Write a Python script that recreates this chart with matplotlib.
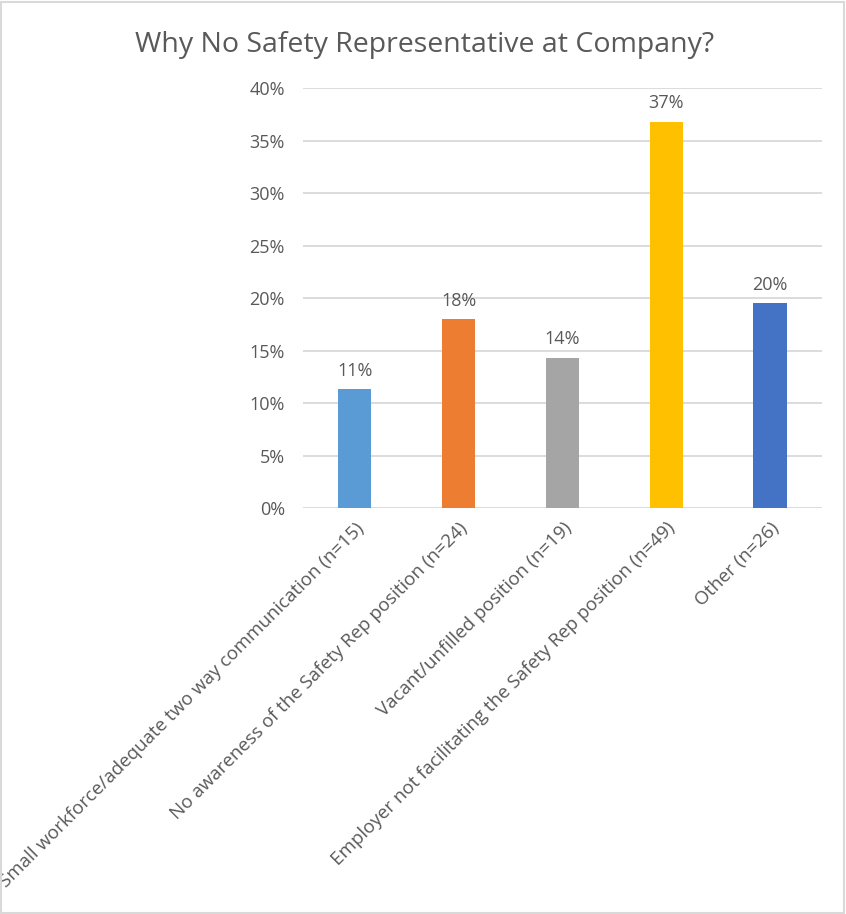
import matplotlib
matplotlib.use("Agg")
import matplotlib.pyplot as plt
from matplotlib.ticker import PercentFormatter
from matplotlib.patches import Rectangle

categories = ["Small workforce/adequate two way communication (n=15)",
              "No awareness of the Safety Rep position (n=24)",
              "Vacant/unfilled position (n=19)",
              "Employer not facilitating the Safety Rep position (n=49)",
              "Other (n=26)"]
values = [11.3, 18.0, 14.3, 36.8, 19.5]
labels = ["11%", "18%", "14%", "37%", "20%"]
colors = ["#5B9BD5", "#ED7D31", "#A5A5A5", "#FFC000", "#4472C4"]
yticks = [0, 5, 10, 15, 20, 25, 30, 35, 40]

txt = "#595959"
plt.rcParams['font.family'] = ['Open Sans', 'DejaVu Sans']

fig = plt.figure(figsize=(8.46, 9.14), dpi=100)
ax = fig.add_axes([0.358, 0.4442, 0.6136, 0.4595])

x = range(len(categories))
ax.bar(x, values, width=0.32, color=colors, zorder=3)
for i, v in enumerate(values):
    ax.text(i, v + 0.9, labels[i], ha='center', va='bottom', fontsize=13, color=txt)

ax.set_xlim(-0.5, 4.5)
ax.set_ylim(0, 40)
ax.set_yticks(yticks)
ax.yaxis.set_major_formatter(PercentFormatter(decimals=0))
ax.grid(axis='y', color='#D9D9D9', linewidth=1.3, zorder=0)
for s in ['top', 'right', 'left', 'bottom']:
    ax.spines[s].set_visible(False)
ax.tick_params(axis='y', length=0, pad=13, labelsize=13, labelcolor=txt)
ax.tick_params(axis='x', length=0, pad=8, labelsize=13.5, labelcolor=txt)
ax.set_xticks(list(x))
ax.set_xticklabels(categories, rotation=45, ha='right', rotation_mode='anchor')

fig.text(0.502, 0.951, "Why No Safety Representative at Company?", ha='center', va='center',
         fontsize=20.5, color=txt)

fig.patches.append(Rectangle((0.001, 0.001), 0.997, 0.997, transform=fig.transFigure,
                             fill=False, edgecolor='#D9D9D9', linewidth=1.5))

fig.savefig("out.png", dpi=100)
